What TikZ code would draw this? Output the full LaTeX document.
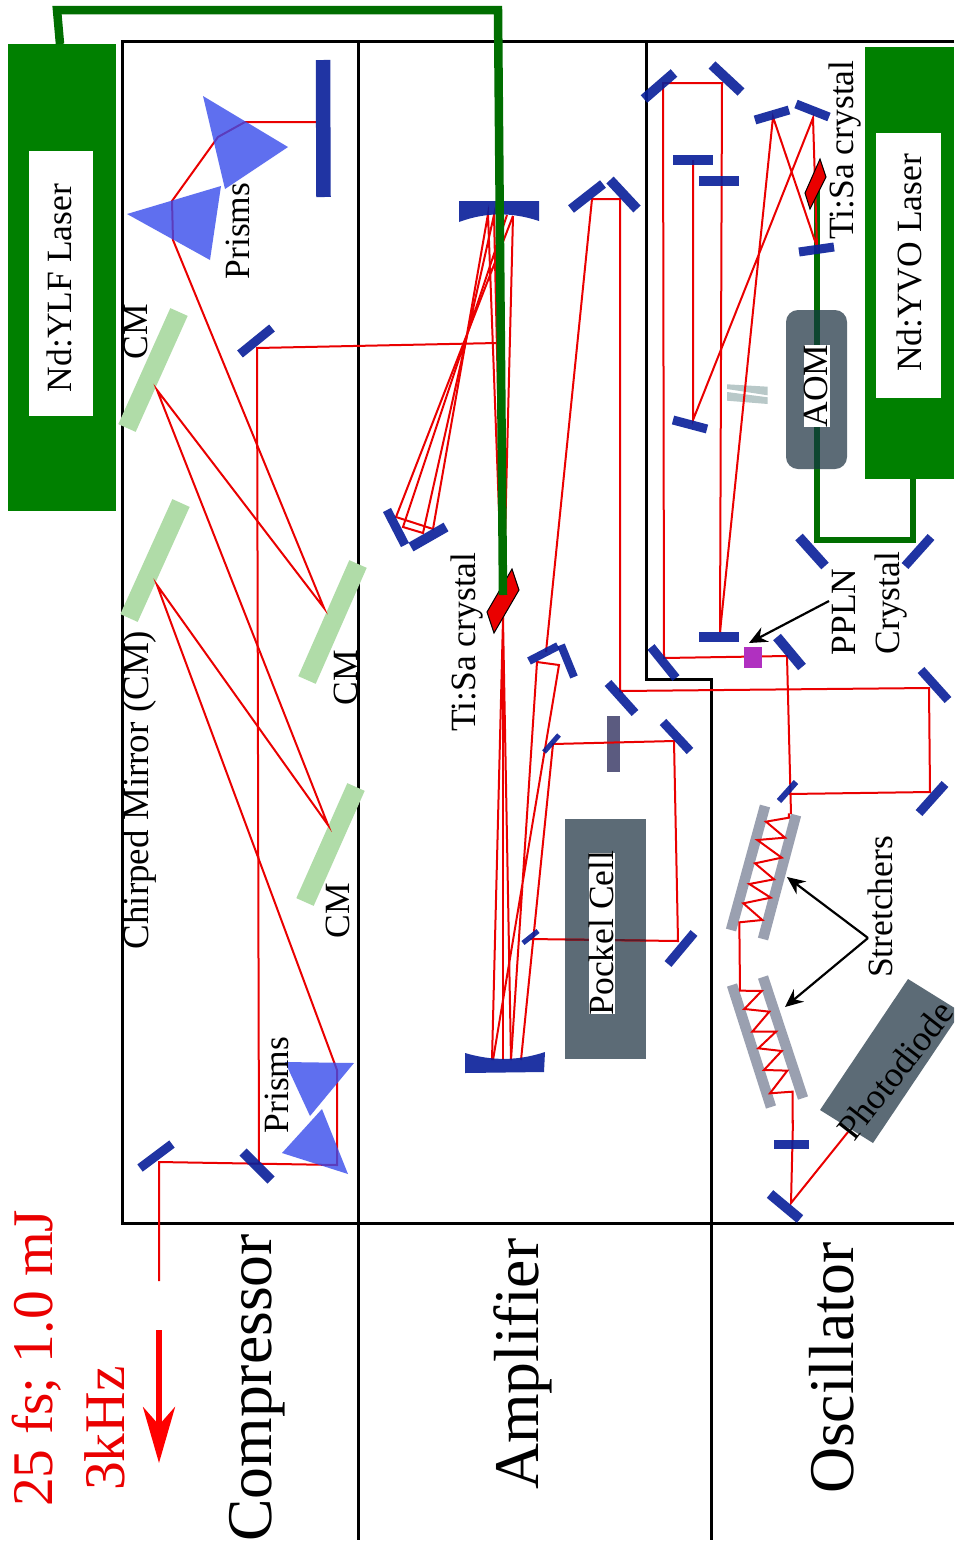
\documentclass[tikz,border=0pt]{standalone}
\usepackage{fontspec}
\setmainfont{Liberation Serif}
\usetikzlibrary{arrows.meta}
\definecolor{mblue}{RGB}{8,30,153}
\definecolor{beamred}{RGB}{234,0,0}
\definecolor{pumpdark}{RGB}{0,110,0}
\definecolor{lasergreen}{RGB}{0,128,0}
\definecolor{boxgray}{RGB}{92,107,118}
\definecolor{cmgreen}{RGB}{176,220,168}
\definecolor{prismblue}{RGB}{56,76,236}
\definecolor{barsgray}{RGB}{154,160,176}
\tikzset{
  frameline/.style={draw=black,line width=3pt},
  beam/.style={draw=beamred,line width=2pt,line join=miter},
  mirrorbar/.style={draw=mblue,draw opacity=.9},
  cmbar/.style={draw=cmgreen,line width=19pt},
  prism/.style={fill=prismblue,fill opacity=.8},
  stretchbar/.style={draw=barsgray,line width=10.5pt},
  crystal/.style={fill=beamred,draw=black,line width=1pt},
  lab/.style={font=\fontsize{35.5}{40}\selectfont,rotate=90,anchor=base,inner sep=0pt},
  biglab/.style={font=\fontsize{63.7}{70}\selectfont,rotate=90,anchor=base west,inner sep=0pt},
  redlab/.style={font=\fontsize{57.5}{64}\selectfont,rotate=90,anchor=base west,inner sep=0pt,text=beamred},
  pointer/.style={draw=black,line width=2.2pt,-{Stealth[length=18pt,width=16pt,inset=6pt]}}
}
\newcommand{\mirr}[3]{\draw[mirrorbar,line width=#3pt] (#1) -- (#2);}
\begin{document}
\begin{tikzpicture}[x=1pt,y=-1pt]
\useasboundingbox[fill=white] (0,0) rectangle (954,1545);
% lasers
\fill[lasergreen] (8,44) rectangle (116,511);
\fill[white] (29,151) rectangle (93,416);
\fill[lasergreen] (865,47) rectangle (954,479);
\fill[white] (876,133) rectangle (941,398);
% frame
\draw[frameline] (954,41) -- (122,41) -- (122,1223) -- (954,1223);
\draw[frameline] (358,41) -- (358,1540);
\draw[frameline] (646,41) -- (646,679) -- (711,679) -- (711,1540);
% oscillator pump
\draw[draw=pumpdark,line width=6pt] (817,190) -- (817,540) -- (913,540) -- (913,479);
% grey boxes
\fill[boxgray] (565,819) rectangle (646,1059);
\fill[boxgray,rounded corners=12pt] (786,310) rectangle (847,469);
\fill[boxgray] (908,979) -- (954,1007.6) -- (954,1022.4) -- (873,1143) -- (820,1110) -- cycle;
\draw[draw={rgb,255:red,14;green,70;blue,48},line width=6pt] (817,310) -- (817,469);
% grey plates
\fill[fill={rgb,255:red,184;green,200;blue,200}] (727,384.3) -- (767.7,386.7) -- (767.7,395.3) -- (727,389) -- cycle;
\fill[fill={rgb,255:red,184;green,200;blue,200}] (727,392) -- (767.7,397.3) -- (767.7,404) -- (727,400.7) -- cycle;
\fill[fill={rgb,255:red,91;green,91;blue,128}] (607,715.5) rectangle (620,772);
% chirped mirrors
\draw[cmbar] (179,312) -- (127,428);
\draw[cmbar] (181,503) -- (129,618);
\draw[cmbar] (358,564) -- (307,680);
\draw[cmbar] (356,787) -- (305,902);
% stretcher bars
\draw[stretchbar] (765,806) -- (731,930);
\draw[stretchbar] (796,815) -- (763,939);
\draw[stretchbar] (732,985) -- (771,1107);
\draw[stretchbar] (763,977) -- (803,1098);
% beam: compressor
\draw[beam] (159,1281) -- (159,1162) -- (337,1165) -- (337,1070) -- (157,585) -- (328,825) -- (157,390) -- (324,608) -- (173,240) -- (172,201) -- (218,137) -- (245,122) -- (316,122);
\draw[beam] (259,1163) -- (257,348) -- (497,343);
% beam: amplifier multipass
\draw[beam] (513,216) -- (396,517) -- (433,529) -- (488,214) -- (503,619);
\draw[beam] (507,215) -- (403,527) -- (423,533) -- (494,215) -- (503,619);
\draw[beam] (513,216) -- (503,619);
\draw[beam] (503,619) -- (492,1060);
\draw[beam] (503,619) -- (503,1060);
\draw[beam] (503,619) -- (511,1060);
\draw[beam] (511,1060) -- (537,662) -- (559,665) -- (493,1060);
\draw[beam] (521,1060) -- (553,744) -- (674,741) -- (678,941) -- (530,939);
\draw[beam] (546,652) -- (592,199) -- (620,199) -- (620,691) -- (929,688) -- (930,792) -- (789,794);
\draw[beam] (620,691) -- (623,692);
\draw[draw={rgb,255:red,90;green,26;blue,40},line width=2pt] (565,939.5) -- (646,940.5);
% beam: oscillator
\draw[beam] (791,814) -- (787,656) -- (664,658) -- (663,83) -- (722,83) -- (720,632);
\draw[beam] (693,160) -- (693,420) -- (813,118) -- (817,247) -- (773,117) -- (720,632);
\begin{scope}[shift={(700,790)},x=.3333pt,y=-.3333pt]
\draw[beam] (267,70) -- (267,83) -- (198,95) -- (255,143) -- (172,150) -- (245,203) -- (165,220) -- (222,268) -- (148,282) -- (212,323) -- (130,340) -- (187,390) -- (118,397) -- (120,602) -- (185,603) -- (133,657) -- (208,665) -- (157,725) -- (228,725) -- (175,775) -- (245,783) -- (192,840) -- (262,842) -- (210,910) -- (278,905) -- (278,1000);
\end{scope}
\draw[beam] (793,1120) -- (791,1203) -- (848,1132);
% prisms
\fill[prism] (203,96) -- (288,147) -- (225,189) -- cycle;
\fill[prism] (127,214) -- (221,186) -- (210,260) -- cycle;
\fill[prism] (285,1062) -- (354,1063) -- (310,1116) -- cycle;
\fill[prism] (322,1109) -- (348,1174) -- (282,1153) -- cycle;
% mirrors
\draw[mirrorbar,line width=14.5pt] (323,60) -- (323.5,197);
\mirr{240,354}{272,328}{9}
\mirr{140,1168}{172,1144}{9}
\mirr{243,1152}{271,1180}{10}
\fill[mblue,fill opacity=.9] (459,201) -- (539,201) -- (539,221) .. controls (512,212) and (486,212) .. (459,222) -- cycle;
\fill[mblue,fill opacity=.9] (465,1053) .. controls (492,1061) and (518,1061) .. (545,1052) -- (544,1072) -- (465,1073) -- cycle;
\mirr{571,209}{603,184}{9.5}
\mirr{610,180}{637,209}{10}
\mirr{387,510}{405,545}{9}
\mirr{411,547}{446,527}{10}
\mirr{529,661}{558,646}{8}
\mirr{561,645}{574,677}{8}
\mirr{544,752}{559,735}{5}
\mirr{523,943}{538,931}{5}
\mirr{608,683}{635,713}{9}
\mirr{663,722}{690,751}{9}
\mirr{668,964}{694,933}{9}
\mirr{699,637}{739,637}{10.5}
\mirr{651,647}{676,678}{9}
\mirr{777,637}{802,667}{10}
\mirr{921,670}{948,700}{9}
\mirr{919,813}{945,784}{9}
\mirr{779,801}{796,782}{6}
\mirr{799,537}{825,566}{10}
\mirr{905,566}{931,537}{9}
\mirr{644,99}{674,73}{10}
\mirr{712,65}{741,92}{10}
\mirr{673,159.5}{713,159.5}{10}
\mirr{699,181}{739,181}{10}
\mirr{755,120}{789,110}{9}
\mirr{796,104}{829,117}{9}
\mirr{799,252}{834,247}{9}
\mirr{673,420}{707,429}{9}
\mirr{774,1144.5}{809,1144.5}{9}
\mirr{770,1194}{800,1219}{10}
% PPLN
\fill[fill={rgb,255:red,176;green,48;blue,192}] (744,647) rectangle (762,668);
% crystals
\draw[crystal] (512,569) -- (519,590) -- (494,633) -- (487,612) -- cycle;
\draw[crystal] (820,159) -- (826,177) -- (810,209) -- (805,193) -- cycle;
% main pump beam
\draw[draw=pumpdark,line width=8.5pt] (60,44) -- (57,10) -- (498,10) -- (503,595);
% text backgrounds
\fill[white] (589,853) rectangle (615,1014);
\fill[white] (804,345) rectangle (830,427);
% labels
\node[lab] (ylf) at (71,288) {Nd:YLF Laser};
\node[lab] (yvo) at (921,263) {Nd:YVO Laser};
\node[lab] (tisaa) at (475,642) {Ti:Sa crystal};
\node[lab] (tisao) at (853,150) {Ti:Sa crystal};
\node[lab] (prisma) at (249,231) {Prisms};
\node[lab] (prismb) at (288,1085) {Prisms};
\node[lab] (cma) at (147,332) {CM};
\node[lab] (cmb) at (357,678) {CM};
\node[lab] (cmc) at (349,911) {CM};
\node[lab,font=\fontsize{37}{42}\selectfont] (chirp) at (148,790) {Chirped Mirror (CM)};
\node[lab] (pockel) at (613,933) {Pockel Cell};
\node[lab] (aom) at (827,386) {AOM};
\node[lab] (pplnl) at (855,612) {PPLN};
\node[lab] (crys) at (899,603) {Crystal};
\node[lab] (stretch) at (892,907) {Stretchers};
\node[lab,font=\fontsize{36}{42}\selectfont,rotate=-38] (photo) at (905,1078) {Photodiode};
\node[biglab] (comp) at (271,1542) {Compressor};
\node[biglab] (amp) at (538,1490) {Amplifier};
\node[biglab] (osc) at (853,1494) {Oscillator};
\node[redlab] (fs) at (52,1507) {25 fs; 1.0 mJ};
\node[redlab] (khz) at (124,1491) {3kHz};
% pointers
\coordinate (pplnfrom) at (829,601);
\coordinate (pplnto) at (749,643);
\draw[pointer] (pplnfrom) -- (pplnto);
\coordinate (stfrom) at (868,938);
\coordinate (stup) at (787,877);
\coordinate (stdown) at (785,1007);
\draw[pointer] (stfrom) -- (stup);
\draw[pointer] (stfrom) -- (stdown);
% output arrow
\coordinate (outa) at (159,1330);
\coordinate (outb) at (159,1463);
\draw[draw=red,line width=6pt,-{Stealth[length=56pt,width=32pt,inset=18pt]}] (outa) -- (outb);
\end{tikzpicture}
\end{document}
